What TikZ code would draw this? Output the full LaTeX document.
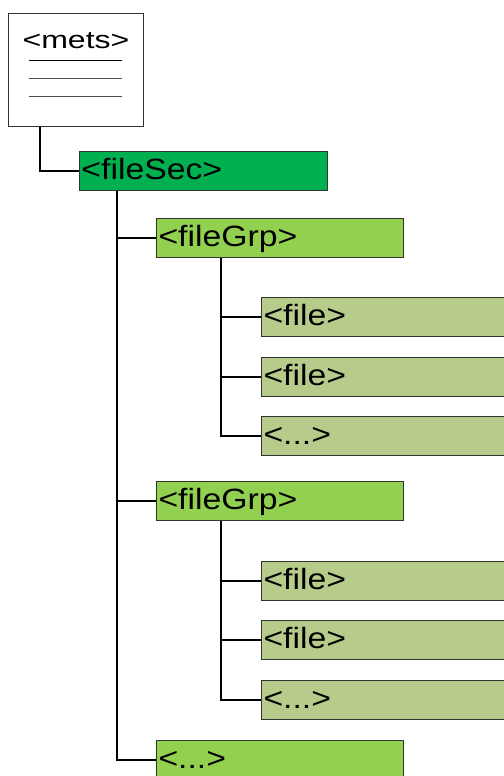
\documentclass[tikz,border=0pt]{standalone}
\usepackage{fontspec}
\setmainfont{Liberation Sans}[FakeStretch=1.15]
\newfontfamily\metsfont{Liberation Sans}[FakeStretch=1.3]
\usetikzlibrary{calc}

\definecolor{secgreen}{HTML}{00B050}
\definecolor{grpgreen}{HTML}{92D050}
\definecolor{filegreen}{HTML}{B7CB8A}

\tikzset{
  elem/.style={draw=black!80, line width=0.75pt, anchor=north west, minimum height=29.25pt,
    inner xsep=1.5pt, inner ysep=0pt, align=left, text height=17pt, text depth=4.5pt,
    font=\fontsize{22}{26}\selectfont},
  secbox/.style={elem, fill=secgreen, text width=183pt},
  grpbox/.style={elem, fill=grpgreen, text width=182.25pt},
  filebox/.style={elem, fill=filegreen, text width=184.5pt},
  metsbox/.style={draw=black!80, line width=0.75pt, anchor=north west, fill=white,
    minimum width=101.25pt, minimum height=84.75pt, inner sep=0pt},
  docline/.style={line width=0.6pt},
  link/.style={line width=1.8pt}
}

\begin{document}
\begin{tikzpicture}[x=0.75pt, y=-0.75pt]
        \useasboundingbox (0,0) rectangle (504,776);
        \clip (0,0) rectangle (504,776);

        \node[metsbox] (mets) at (8,13) {};
        \node[anchor=base, inner sep=0pt, font=\metsfont\fontsize{18.5}{22}\selectfont] (metsname) at ($(mets.north)+(0,35)$) {<mets>};
        \draw[docline, black] ($(mets.north west)+(21,47)$) -- ++(93,0);
        \draw[docline, black!70] ($(mets.north west)+(21,65)$) -- ++(93,0);
        \draw[docline, black!70] ($(mets.north west)+(21,83)$) -- ++(93,0);

        \node[secbox] (filesec) at (79,151) {<fileSec>};

        \node[grpbox] (grp1) at (156,218) {<fileGrp>};
        \node[filebox] (file11) at (261,297) {<file>};
        \node[filebox] (file12) at (261,357) {<file>};
        \node[filebox] (file13) at (261,416) {<...>};

        \node[grpbox] (grp2) at (156,481) {<fileGrp>};
        \node[filebox] (file21) at (261,561) {<file>};
        \node[filebox] (file22) at (261,620) {<file>};
        \node[filebox] (file23) at (261,680) {<...>};

        \node[grpbox] (grp3) at (156,740) {<...>};

        \draw[link] ($(mets.south west)+(32,0)$) |- (filesec.west);

        \draw[link] ($(filesec.south west)+(38,0)$) |- (grp1.west);
        \draw[link] ($(filesec.south west)+(38,0)$) |- (grp2.west);
        \draw[link] ($(filesec.south west)+(38,0)$) |- (grp3.west);

        \draw[link] ($(grp1.south west)+(65,0)$) |- (file11.west);
        \draw[link] ($(grp1.south west)+(65,0)$) |- (file12.west);
        \draw[link] ($(grp1.south west)+(65,0)$) |- (file13.west);

        \draw[link] ($(grp2.south west)+(65,0)$) |- (file21.west);
        \draw[link] ($(grp2.south west)+(65,0)$) |- (file22.west);
        \draw[link] ($(grp2.south west)+(65,0)$) |- (file23.west);
\end{tikzpicture}
\end{document}
